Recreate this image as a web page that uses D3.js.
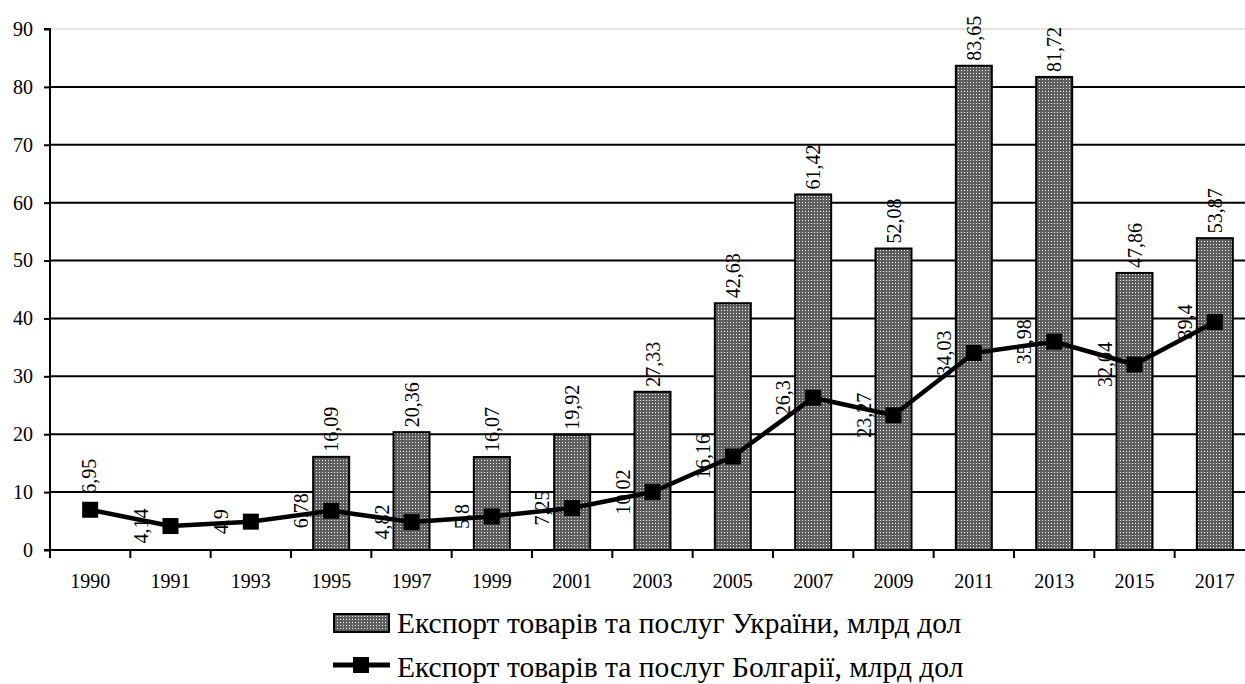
<!DOCTYPE html>
<html>
<head>
<meta charset="utf-8">
<script src="https://cdn.jsdelivr.net/npm/d3@7"></script>
<style>
  body { margin: 0; background: #fff; overflow: hidden; }
  svg text { font-family: 'Liberation Serif', 'DejaVu Serif', serif !important; }
</style>
</head>
<body>
<div id="vis"></div>
<script>
// data
var years = ["1990", "1991", "1993", "1995", "1997", "1999", "2001", "2003", "2005", "2007", "2009", "2011", "2013", "2015", "2017"];
var ukraine = [null, null, null, 16.09, 20.36, 16.07, 19.92, 27.33, 42.63, 61.42, 52.08, 83.65, 81.72, 47.86, 53.87];
var bulgaria = [6.95, 4.14, 4.9, 6.78, 4.82, 5.8, 7.25, 10.02, 16.16, 26.3, 23.27, 34.03, 35.98, 32.04, 39.4];
var yTicks = [0, 10, 20, 30, 40, 50, 60, 70, 80, 90];
var legendNames = ["Експорт товарів та послуг України, млрд дол", "Експорт товарів та послуг Болгарії, млрд дол"];

var width = 1245, height = 684;
var fmt = function(v){ return String(v).replace(".", ","); };

var svg = d3.select("#vis").append("svg")
    .attr("width", width)
    .attr("height", height);

var defs = svg.append("defs");
var pat = defs.append("pattern")
    .attr("id", "dots")
    .attr("patternUnits", "userSpaceOnUse")
    .attr("width", 3).attr("height", 3);
pat.append("rect").attr("width", 3).attr("height", 3).attr("fill", "#5e5e5e");
pat.append("rect").attr("x", 1).attr("y", 1).attr("width", 1).attr("height", 1).attr("fill", "#f4f4f4");

// plot area runs a little past the right edge of the picture
var x = d3.scaleBand().domain(years).range([50, 1255]);
var y = d3.scaleLinear().domain([0, 90]).range([550, 29]);

// gridlines
svg.append("g").selectAll("line")
    .data(yTicks.filter(function(t){ return t > 0; }))
    .enter().append("line")
    .attr("x1", 50).attr("x2", 1255)
    .attr("y1", function(d){ return y(d); })
    .attr("y2", function(d){ return y(d); })
    .attr("stroke", function(d){ return d === 90 ? "#c8c8c8" : "#000"; })
    .attr("stroke-width", function(d){ return d === 90 ? 1 : 2; });

// bars
var bw = 36;
var barData = years.map(function(yr, i){ return {year: yr, v: ukraine[i]}; })
    .filter(function(d){ return d.v != null; });

svg.append("g").selectAll("rect")
    .data(barData)
    .enter().append("rect")
    .attr("x", function(d){ return x(d.year) + x.bandwidth()/2 - bw/2; })
    .attr("y", function(d){ return y(d.v); })
    .attr("width", bw)
    .attr("height", function(d){ return y(0) - y(d.v); })
    .attr("fill", "url(#dots)")
    .attr("stroke", "#000")
    .attr("stroke-width", 2);

// axes
var yAxis = svg.append("g")
    .attr("transform", "translate(50,0)")
    .call(d3.axisLeft(y).tickValues(yTicks).tickSize(6).tickPadding(11));
var xAxis = svg.append("g")
    .attr("transform", "translate(0,550)")
    .call(d3.axisBottom(x).tickSize(0).tickPadding(24));
xAxis.selectAll(".tick").append("line")
    .attr("x1", -x.bandwidth()/2).attr("x2", -x.bandwidth()/2)
    .attr("y1", 0).attr("y2", 8)
    .attr("stroke", "#000").attr("stroke-width", 2);

[yAxis, xAxis].forEach(function(a){
    a.select(".domain").attr("stroke", "#000").attr("stroke-width", 2);
    a.selectAll(".tick line").attr("stroke", "#000").attr("stroke-width", 2);
    a.selectAll("text").attr("font-size", 20).attr("fill", "#000");
});
yAxis.select(".domain").attr("d", "M-6,29H0V550H-6");
xAxis.select(".domain").attr("d", "M50,0H1255");

// line
var cx = function(i){ return x(years[i]) + x.bandwidth()/2; };
var line = d3.line()
    .x(function(d, i){ return cx(i); })
    .y(function(d){ return y(d); });

svg.append("path")
    .datum(bulgaria)
    .attr("d", line)
    .attr("fill", "none")
    .attr("stroke", "#000")
    .attr("stroke-width", 4.5)
    .attr("stroke-linejoin", "round");

svg.append("g").selectAll("rect")
    .data(bulgaria)
    .enter().append("rect")
    .attr("x", function(d, i){ return cx(i) - 8; })
    .attr("y", function(d){ return y(d) - 8; })
    .attr("width", 16).attr("height", 16)
    .attr("fill", "#000");

// bar labels
svg.append("g").selectAll("text")
    .data(barData)
    .enter().append("text")
    .attr("transform", function(d){
        return "translate(" + (x(d.year) + x.bandwidth()/2) + "," + (y(d.v) - 5) + ") rotate(-90)";
    })
    .attr("dominant-baseline", "central")
    .attr("text-anchor", "start")
    .attr("font-size", 20)
    .text(function(d){ return fmt(d.v); });

// line labels (left of point, first one above)
svg.append("g").selectAll("text")
    .data(bulgaria)
    .enter().append("text")
    .attr("transform", function(d, i){
        if (i === 0) return "translate(" + (cx(i) - 1) + "," + (y(d) - 16) + ") rotate(-90)";
        return "translate(" + (cx(i) - 30) + "," + y(d) + ") rotate(-90)";
    })
    .attr("dominant-baseline", "central")
    .attr("text-anchor", function(d, i){ return i === 0 ? "start" : "middle"; })
    .attr("font-size", 20)
    .text(function(d){ return fmt(d); });

// legend
var lg = svg.append("g");
lg.append("rect")
    .attr("x", 334).attr("y", 614).attr("width", 55).attr("height", 18)
    .attr("fill", "url(#dots)").attr("stroke", "#000").attr("stroke-width", 2);
lg.append("text")
    .attr("x", 397).attr("y", 633)
    .attr("font-size", 29.5)
    .text(legendNames[0]);
lg.append("line")
    .attr("x1", 333).attr("x2", 390).attr("y1", 665).attr("y2", 665)
    .attr("stroke", "#000").attr("stroke-width", 5);
lg.append("rect")
    .attr("x", 353).attr("y", 657).attr("width", 16).attr("height", 16)
    .attr("fill", "#000");
lg.append("text")
    .attr("x", 397).attr("y", 677)
    .attr("font-size", 29.5)
    .text(legendNames[1]);
</script>
</body>
</html>
